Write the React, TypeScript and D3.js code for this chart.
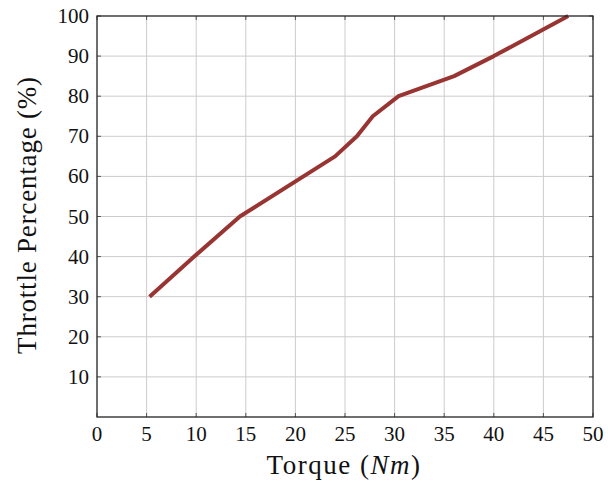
import React from "react";
import * as d3 from "d3";

const torque = [5.3, 9.8, 14.4, 24.0, 26.2, 27.8, 30.4, 36.0, 40.0, 47.5];
const throttle = [30, 40, 50, 65, 70, 75, 80, 85, 90, 100];
const xTicks = [0, 5, 10, 15, 20, 25, 30, 35, 40, 45, 50];
const yTicks = [10, 20, 30, 40, 50, 60, 70, 80, 90, 100];

const W = 608, H = 485;
const L = 97, R = 593, T = 16, B = 417;
const FONT = "Liberation Serif, Times New Roman, DejaVu Serif, serif";

export default function App() {
  const x = d3.scaleLinear().domain([0, 50]).range([L, R]);
  const y = d3.scaleLinear().domain([0, 100]).range([B, T]);
  const pts = torque.map((t, i) => [t, throttle[i]] as [number, number]);
  const line = d3.line<[number, number]>().x(d => x(d[0])).y(d => y(d[1]));
  const tk = 4;
  const ts = { fontFamily: FONT };
  return (
    <svg width={W} height={H} style={{ position: "absolute", left: 0, top: 0, fontFamily: FONT }}>
      <rect width={W} height={H} fill="#fff" />
      {xTicks.filter(v => v > 0 && v < 50).map(v => (
        <line key={"gx" + v} x1={x(v)} x2={x(v)} y1={T} y2={B} stroke="#cccccc" strokeWidth={1} />
      ))}
      {yTicks.filter(v => v < 100).map(v => (
        <line key={"gy" + v} x1={L} x2={R} y1={y(v)} y2={y(v)} stroke="#cccccc" strokeWidth={1} />
      ))}
      {xTicks.map(v => (
        <g key={"tx" + v}>
          <line x1={x(v)} x2={x(v)} y1={B} y2={B - tk} stroke="#555" strokeWidth={1} />
          <line x1={x(v)} x2={x(v)} y1={T} y2={T + tk} stroke="#555" strokeWidth={1} />
          <text x={x(v)} y={B + 24} textAnchor="middle" fontSize={21} fill="#111" style={ts}>{v}</text>
        </g>
      ))}
      {yTicks.map(v => (
        <g key={"ty" + v}>
          <line x1={L} x2={L + tk} y1={y(v)} y2={y(v)} stroke="#555" strokeWidth={1} />
          <line x1={R} x2={R - tk} y1={y(v)} y2={y(v)} stroke="#555" strokeWidth={1} />
          <text x={L - 8} y={y(v) + 7} textAnchor="end" fontSize={21} fill="#111" style={ts}>{v}</text>
        </g>
      ))}
      <path d={line(pts) || ""} fill="none" stroke="#983533" strokeWidth={4} strokeLinejoin="round" />
      <rect x={L} y={T} width={R - L} height={B - T} fill="none" stroke="#222" strokeWidth={1.3} />
      <text x={344} y={474} textAnchor="middle" fontSize={27} letterSpacing={1.5} fill="#111" style={ts}>
        Torque (<tspan fontStyle="italic">Nm</tspan>)
      </text>
      <text transform={`translate(36, 215) rotate(-90)`} textAnchor="middle" fontSize={27} letterSpacing={0.8} fill="#111" style={ts}>
        Throttle Percentage (%)
      </text>
    </svg>
  );
}
